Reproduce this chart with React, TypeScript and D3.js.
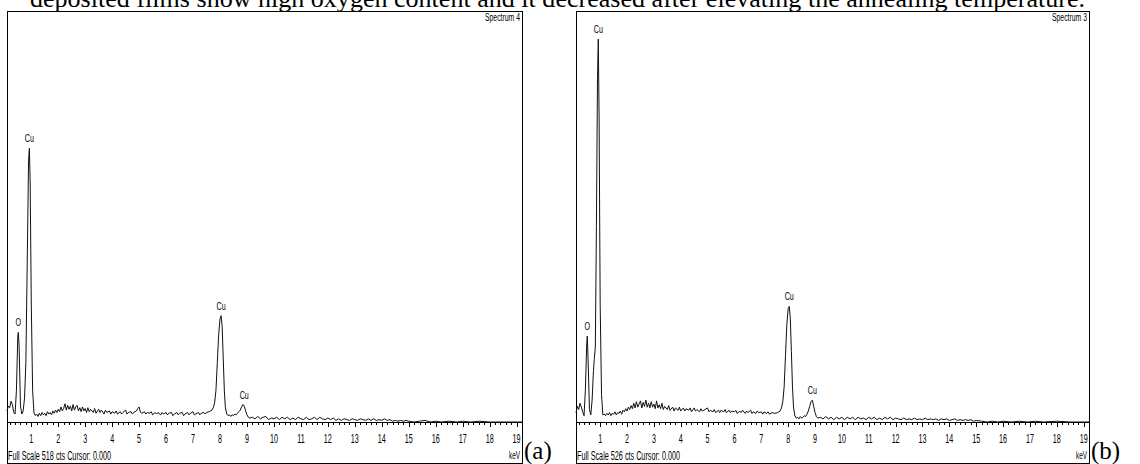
import React from "react";
import * as d3 from "d3";

const W = 1140;
const H = 464;

// EDS spectrum (a): [keV, counts], full scale 518 cts
const spectrumA: [number, number][] = [
  [0.1, 14], [0.15, 20], [0.2, 18], [0.25, 26], [0.3, 22], [0.35, 12], [0.4, 10], [0.45, 40], [0.5, 108], [0.52, 113], [0.55, 95], [0.6, 20], [0.65, 10], [0.7, 14], [0.75, 30], [0.8, 75], [0.85, 200], [0.9, 330], [0.93, 345], [0.96, 300], [1.0, 150], [1.05, 40], [1.1, 12], [1.15, 8], [1.2, 10],
  [1.25, 7], [1.3, 11], [1.35, 8], [1.4, 12], [1.45, 9], [1.5, 11], [1.55, 8], [1.6, 13], [1.65, 10], [1.7, 12], [1.75, 9], [1.8, 14], [1.85, 11], [1.9, 15], [1.95, 12], [2.0, 16], [2.05, 13], [2.1, 19], [2.15, 14], [2.2, 17], [2.25, 23], [2.3, 15], [2.35, 21], [2.4, 16], [2.45, 20], [2.5, 14], [2.55, 22], [2.6, 15], [2.65, 19], [2.7, 21], [2.75, 14], [2.8, 18], [2.85, 13], [2.9, 19], [2.95, 14], [3.0, 17], [3.05, 12], [3.1, 18], [3.15, 13], [3.2, 16], [3.3, 12], [3.35, 17], [3.4, 11], [3.5, 16], [3.55, 12], [3.6, 15], [3.7, 10], [3.75, 15], [3.8, 12], [3.9, 14], [3.95, 10], [4.0, 13], [4.1, 11], [4.15, 14], [4.2, 10], [4.3, 13], [4.35, 10], [4.4, 12], [4.5, 15], [4.55, 10], [4.6, 12], [4.7, 13], [4.75, 10], [4.8, 12], [4.9, 14], [4.95, 17], [5.0, 19], [5.05, 12], [5.1, 11], [5.2, 13], [5.25, 10], [5.3, 12], [5.4, 11], [5.45, 13], [5.5, 9], [5.6, 12], [5.65, 10], [5.7, 12], [5.8, 9], [5.85, 12], [5.9, 10], [6.0, 12], [6.05, 9], [6.1, 11], [6.2, 12], [6.25, 8], [6.3, 10], [6.4, 12], [6.45, 9], [6.5, 11], [6.6, 12], [6.65, 8], [6.7, 10], [6.8, 12], [6.85, 9], [6.9, 11], [7.0, 13], [7.05, 9], [7.1, 10], [7.2, 12], [7.25, 9], [7.3, 11], [7.4, 12], [7.45, 10], [7.5, 12], [7.6, 13], [7.7, 15],
  [7.75, 18], [7.8, 24], [7.85, 40], [7.9, 75], [7.95, 110], [8.0, 130], [8.04, 134], [8.08, 120], [8.12, 80], [8.16, 40], [8.2, 18], [8.25, 10], [8.3, 8], [8.35, 9], [8.4, 7], [8.45, 9], [8.5, 8], [8.55, 10], [8.6, 9], [8.65, 11], [8.7, 13], [8.75, 15], [8.8, 19], [8.85, 22], [8.9, 20], [8.95, 14], [9.0, 9], [9.05, 6], [9.1, 5],
  [9.2, 6], [9.3, 4], [9.4, 7], [9.5, 4], [9.6, 6], [9.7, 7], [9.8, 3], [9.9, 5], [10.0, 4], [10.1, 6], [10.2, 3], [10.3, 6], [10.4, 4], [10.5, 6], [10.6, 3], [10.7, 5], [10.8, 3], [10.9, 6], [11.0, 4], [11.1, 3], [11.2, 6], [11.3, 3], [11.4, 4], [11.5, 6], [11.6, 3], [11.7, 6], [11.8, 4], [11.9, 3], [12.0, 5], [12.1, 3], [12.2, 5], [12.3, 2], [12.4, 4], [12.5, 2], [12.6, 4], [12.7, 3], [12.8, 2], [12.9, 4], [13.0, 3], [13.1, 2], [13.2, 4], [13.3, 3], [13.4, 2], [13.5, 4], [13.6, 2], [13.7, 4], [13.8, 2], [13.9, 3], [14.0, 2], [14.1, 4], [14.2, 2], [14.3, 3], [14.4, 1], [14.5, 2], [14.6, 1], [14.7, 2], [14.8, 1], [14.9, 2], [15.0, 1], [15.2, 0], [15.4, 1], [15.6, 2], [15.8, 0], [16.0, 1], [16.2, 0], [16.5, 1], [16.8, 0], [17.0, 1], [17.3, 0], [17.6, 1], [18.0, 0], [18.5, 0], [19.2, 0],
];

// EDS spectrum (b): [keV, counts], full scale 526 cts
const spectrumB: [number, number][] = [
  [0.1, 12], [0.15, 20], [0.2, 16], [0.25, 24], [0.3, 19], [0.35, 13], [0.4, 8], [0.45, 42], [0.5, 100], [0.52, 110], [0.55, 80], [0.6, 16], [0.65, 9], [0.7, 28], [0.75, 66], [0.78, 80], [0.82, 96], [0.86, 250], [0.9, 440], [0.93, 490], [0.96, 390], [1.0, 150], [1.05, 35], [1.1, 9], [1.15, 10], [1.2, 8],
  [1.25, 11], [1.3, 9], [1.35, 12], [1.4, 8], [1.45, 11], [1.5, 10], [1.55, 13], [1.6, 9], [1.65, 12], [1.7, 11], [1.75, 14], [1.8, 10], [1.85, 15], [1.9, 13], [1.95, 17], [2.0, 14], [2.05, 19], [2.1, 16], [2.15, 21], [2.2, 17], [2.25, 24], [2.3, 18], [2.35, 26], [2.4, 19], [2.45, 23], [2.5, 27], [2.55, 18], [2.6, 25], [2.65, 20], [2.7, 28], [2.75, 19], [2.8, 24], [2.85, 18], [2.9, 26], [2.95, 19], [3.0, 23], [3.05, 17], [3.1, 27], [3.15, 18], [3.2, 22], [3.25, 17], [3.3, 24], [3.35, 16], [3.4, 20], [3.5, 16], [3.55, 21], [3.6, 15], [3.7, 19], [3.75, 14], [3.8, 18], [3.9, 15], [3.95, 19], [4.0, 14], [4.1, 18], [4.15, 14], [4.2, 17], [4.3, 15], [4.35, 18], [4.4, 13], [4.5, 18], [4.55, 14], [4.6, 16], [4.7, 13], [4.75, 17], [4.8, 14], [4.9, 16], [5.0, 18], [5.05, 13], [5.1, 15], [5.2, 13], [5.25, 16], [5.3, 12], [5.4, 15], [5.45, 12], [5.5, 15], [5.6, 13], [5.65, 16], [5.7, 12], [5.8, 15], [5.85, 12], [5.9, 14], [6.0, 13], [6.05, 15], [6.1, 11], [6.2, 14], [6.25, 12], [6.3, 15], [6.4, 11], [6.45, 14], [6.5, 12], [6.6, 15], [6.65, 11], [6.7, 13], [6.8, 11], [6.85, 14], [6.9, 12], [7.0, 13], [7.05, 10], [7.1, 13], [7.2, 11], [7.25, 13], [7.3, 10], [7.4, 12], [7.5, 11], [7.6, 12], [7.7, 14],
  [7.75, 18], [7.8, 26], [7.85, 45], [7.9, 85], [7.95, 125], [8.0, 145], [8.04, 148], [8.08, 132], [8.12, 90], [8.16, 45], [8.2, 18], [8.25, 8], [8.3, 5], [8.35, 6], [8.4, 4], [8.45, 7], [8.5, 5], [8.55, 6], [8.6, 8], [8.65, 7], [8.7, 10], [8.75, 14], [8.8, 20], [8.85, 26], [8.9, 28], [8.95, 20], [9.0, 12], [9.05, 7], [9.1, 5],
  [9.2, 6], [9.3, 4], [9.4, 7], [9.5, 4], [9.6, 6], [9.7, 3], [9.8, 6], [9.9, 4], [10.0, 6], [10.1, 3], [10.2, 6], [10.3, 4], [10.4, 6], [10.5, 3], [10.6, 6], [10.7, 4], [10.8, 5], [10.9, 3], [11.0, 6], [11.1, 4], [11.2, 6], [11.3, 3], [11.4, 5], [11.5, 3], [11.6, 6], [11.7, 4], [11.8, 6], [11.9, 3], [12.0, 5], [12.1, 4], [12.2, 3], [12.3, 5], [12.4, 3], [12.5, 4], [12.6, 3], [12.7, 5], [12.8, 3], [12.9, 4], [13.0, 3], [13.1, 5], [13.2, 3], [13.3, 4], [13.4, 3], [13.5, 4], [13.6, 2], [13.7, 4], [13.8, 3], [13.9, 4], [14.0, 2], [14.1, 3], [14.2, 4], [14.3, 2], [14.4, 3], [14.5, 2], [14.6, 3], [14.7, 2], [14.8, 3], [14.9, 1], [15.0, 2], [15.2, 1], [15.4, 0], [15.6, 1], [15.8, 0], [16.0, 1], [16.3, 0], [16.6, 1], [16.9, 0], [17.2, 1], [17.5, 0], [18.0, 1], [18.5, 0], [19.2, 0],
];

// peak labels: element, line energy (keV)
const peaksA: [string, number][] = [["O", 0.52], ["Cu", 0.93], ["Cu", 8.04], ["Cu", 8.9]];
const peaksB: [string, number][] = [["O", 0.52], ["Cu", 0.93], ["Cu", 8.04], ["Cu", 8.9]];

const tickLabels = [1, 2, 3, 4, 5, 6, 7, 8, 9, 10, 11, 12, 13, 14, 15, 16, 17, 18, 19];
const energyDomain: [number, number] = [0.1, 19.2];

const captionText =
  "deposited films show high oxygen content and it decreased after elevating the annealing temperature.";

const panels = [
  { id: "a", left: 7, right: 522, fullScale: 518, spectrum: spectrumA, peaks: peaksA, title: "Spectrum 4", footer: "Full Scale 518 cts Cursor: 0.000", letter: "(a)" },
  { id: "b", left: 576, right: 1089, fullScale: 526, spectrum: spectrumB, peaks: peaksB, title: "Spectrum 3", footer: "Full Scale 526 cts Cursor: 0.000", letter: "(b)" },
];

const TOP = 11;
const AXIS_Y = 422;
const BOTTOM = 463;
const SANS = "'Liberation Sans', Arial, sans-serif";
const SERIF = "'Liberation Serif', 'Times New Roman', serif";

function Panel({ p }: { p: (typeof panels)[number] }) {
  const x = d3.scaleLinear().domain(energyDomain).range([p.left, p.right]);
  const y = d3.scaleLinear().domain([0, p.fullScale]).range([AXIS_Y, TOP]);
  const line = d3
    .line<[number, number]>()
    .x((d) => x(d[0]))
    .y((d) => y(d[1]));
  const minor = d3.range(0.2, 19.21, 0.2).map((v) => Math.round(v * 10) / 10);
  const peakTop = (e: number) =>
    d3.max(p.spectrum.filter((d) => Math.abs(d[0] - e) <= 0.06), (d) => d[1]) ?? 0;
  return (
    <g>
      <rect x={p.left + 0.5} y={TOP + 0.5} width={p.right - p.left} height={BOTTOM - TOP} fill="#fff" stroke="#000" strokeWidth={1} />
      <line x1={p.left} x2={p.right} y1={AXIS_Y + 0.5} y2={AXIS_Y + 0.5} stroke="#000" />
      {minor.map((v) => {
        const major = Math.abs(v - Math.round(v)) < 1e-6;
        const xx = Math.round(x(v)) + 0.5;
        return <line key={v} x1={xx} x2={xx} y1={AXIS_Y} y2={AXIS_Y + (major ? 5 : 3)} stroke="#000" />;
      })}
      {tickLabels.map((t) => (
        <text key={t} transform={`translate(${x(t)},${AXIS_Y + 21}) scale(0.6,1)`} textAnchor="middle" fontFamily={SANS} fontSize={12} fill="#000">
          {t}
        </text>
      ))}
      <path d={line(p.spectrum) ?? ""} fill="none" stroke="#111" strokeWidth={1} />
      {p.peaks.map(([el, e], i) => (
        <text key={i} transform={`translate(${x(e)},${y(peakTop(e)) - 6}) scale(0.65,1)`} textAnchor="middle" fontFamily={SANS} fontSize={11} fill="#000">
          {el}
        </text>
      ))}
      <text x={p.right - 37} y={TOP + 10} textLength={35} lengthAdjust="spacingAndGlyphs" fontFamily={SANS} fontSize={10} fill="#000">
        {p.title}
      </text>
      <text x={p.left + 1} y={BOTTOM - 3} textLength={103} lengthAdjust="spacingAndGlyphs" fontFamily={SANS} fontSize={12} fill="#000">
        {p.footer}
      </text>
      <text x={p.right - 13} y={BOTTOM - 4} textLength={11} lengthAdjust="spacingAndGlyphs" fontFamily={SANS} fontSize={10} fill="#000">
        keV
      </text>
      <text x={p.right + 2} y={BOTTOM - 4} fontFamily={SERIF} fontSize={25} fill="#000">
        {p.letter}
      </text>
    </g>
  );
}

export default function App() {
  return (
    <svg width={W} height={H} viewBox={`0 0 ${W} ${H}`} style={{ position: "absolute", left: 0, top: 0, background: "#fff" }}>
      <rect x={0} y={0} width={W} height={H} fill="#fff" />
      <text x={30} y={7} textLength={1055} lengthAdjust="spacing" fontFamily={SERIF} fontSize={26} fill="#000">
        {captionText}
      </text>
      {panels.map((p) => (
        <Panel key={p.id} p={p} />
      ))}
    </svg>
  );
}
